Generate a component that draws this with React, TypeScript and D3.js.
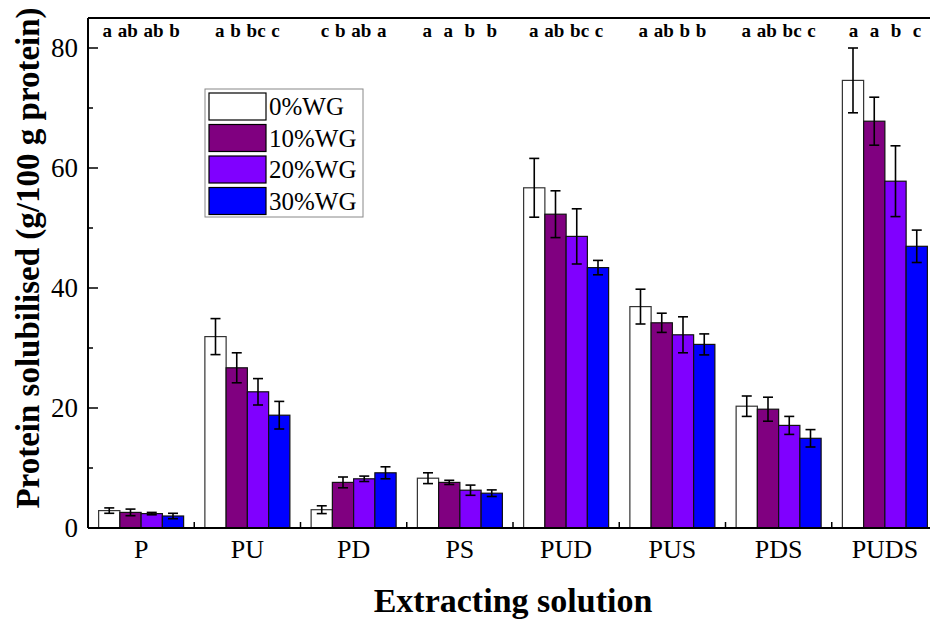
import React from "react";
import * as d3 from "d3";

const categories = ["P", "PU", "PD", "PS", "PUD", "PUS", "PDS", "PUDS"];
const seriesNames = ["0%WG", "10%WG", "20%WG", "30%WG"];
const seriesColors = ["#FFFFFF", "#800080", "#8000FF", "#0000FF"];
const values0 = [2.9, 31.9, 3.05, 8.3, 56.7, 36.9, 20.3, 74.6];
const values10 = [2.6, 26.7, 7.6, 7.6, 52.3, 34.2, 19.8, 67.8];
const values20 = [2.4, 22.7, 8.2, 6.3, 48.6, 32.2, 17.1, 57.8];
const values30 = [2.0, 18.8, 9.2, 5.8, 43.4, 30.6, 14.95, 46.95];
const errors0 = [0.45, 3.0, 0.65, 0.9, 4.9, 2.9, 1.7, 5.4];
const errors10 = [0.55, 2.5, 0.9, 0.35, 3.9, 1.6, 2.0, 4.0];
const errors20 = [0.2, 2.2, 0.45, 0.85, 4.6, 3.0, 1.5, 5.9];
const errors30 = [0.45, 2.3, 1.0, 0.55, 1.2, 1.75, 1.45, 2.7];
const letters = ["a ab ab b", "a b bc c", "c b ab a", "a  a  b  b", "a ab bc c", "a ab b b", "a ab bc c", "a  a  b  c"];
const yTicks = [0, 20, 40, 60, 80];
const yMinorTicks = [10, 30, 50, 70];

const allValues = [values0, values10, values20, values30];
const allErrors = [errors0, errors10, errors20, errors30];

const W = 930;
const H = 619;
const left = 88;
const right = 938;
const top = 18;
const bottom = 528;
const serif = "'Liberation Serif', 'Times New Roman', serif";

export default function App() {
  const x0 = d3.scaleBand<string>().domain(categories).range([left, right]).padding(0);
  const x1 = d3
    .scaleBand<string>()
    .domain(seriesNames)
    .range([0, x0.bandwidth()])
    .paddingInner(0)
    .paddingOuter(0.5);
  const y = d3.scaleLinear().domain([0, 85]).range([bottom, top]);
  const bw = x1.bandwidth();

  const legendX = 205;
  const legendY = 89;
  const rowH = 31.5;

  return (
    <svg
      width={W}
      height={H}
      style={{ position: "absolute", left: 0, top: 0, background: "#fff" }}
      fontFamily={serif}
    >
      {/* bars */}
      {categories.map((c, ci) => (
        <g key={c}>
          {seriesNames.map((s, si) => {
            const v = allValues[si][ci];
            const e = allErrors[si][ci];
            const bx = (x0(c) as number) + (x1(s) as number);
            const cx = bx + bw / 2;
            return (
              <g key={s}>
                <rect
                  x={bx}
                  y={y(v)}
                  width={bw}
                  height={y(0) - y(v)}
                  fill={seriesColors[si]}
                  stroke={si === 0 ? "#333" : "#111"}
                  strokeWidth={1.2}
                />
                <line x1={cx} x2={cx} y1={y(v + e)} y2={y(v - e)} stroke="#000" strokeWidth={1.6} />
                <line x1={cx - 5} x2={cx + 5} y1={y(v + e)} y2={y(v + e)} stroke="#000" strokeWidth={1.6} />
                <line x1={cx - 5} x2={cx + 5} y1={y(v - e)} y2={y(v - e)} stroke="#000" strokeWidth={1.6} />
              </g>
            );
          })}
        </g>
      ))}

      {/* frame */}
      <line x1={left} x2={right} y1={top} y2={top} stroke="#000" strokeWidth={2} />
      <line x1={left} x2={left} y1={top} y2={bottom} stroke="#000" strokeWidth={2} />
      <line x1={left} x2={right} y1={bottom} y2={bottom} stroke="#000" strokeWidth={2} />

      {/* y ticks */}
      {yTicks.map((t) => (
        <g key={t}>
          <line x1={left} x2={left + 10} y1={y(t)} y2={y(t)} stroke="#000" strokeWidth={1.5} />
          <text x={left - 10} y={y(t) + 9} textAnchor="end" fontSize={27}>
            {t}
          </text>
        </g>
      ))}
      {yMinorTicks.map((t) => (
        <line key={t} x1={left} x2={left + 5} y1={y(t)} y2={y(t)} stroke="#000" strokeWidth={1.5} />
      ))}

      {/* x ticks & labels */}
      {categories.map((c, i) => (
        <g key={c}>
          {i > 0 && (
            <line
              x1={x0(c) as number}
              x2={x0(c) as number}
              y1={bottom}
              y2={bottom - 6}
              stroke="#000"
              strokeWidth={1.5}
            />
          )}
          <text
            x={(x0(c) as number) + x0.bandwidth() / 2}
            y={558}
            textAnchor="middle"
            fontSize={26}
          >
            {c}
          </text>
          <text
            x={(x0(c) as number) + x0.bandwidth() / 2}
            y={37}
            textAnchor="middle"
            fontSize={19}
            fontWeight="bold"
            wordSpacing={1}
            style={{ whiteSpace: "pre" }}
          >
            {letters[i]}
          </text>
        </g>
      ))}

      {/* axis titles */}
      <text x={(left + right) / 2} y={612} textAnchor="middle" fontSize={34} fontWeight="bold">
        Extracting solution
      </text>
      <text
        transform={`translate(39, ${(top + bottom) / 2 - 15}) rotate(-90)`}
        textAnchor="middle"
        fontSize={33}
        fontWeight="bold"
      >
        Protein solubilised (g/100 g protein)
      </text>

      {/* legend */}
      <rect x={legendX} y={legendY} width={158} height={128} fill="#fff" stroke="#888" strokeWidth={1} />
      {seriesNames.map((s, i) => (
        <g key={s}>
          <rect
            x={legendX + 4}
            y={legendY + 4 + i * rowH}
            width={57}
            height={27}
            fill={seriesColors[i]}
            stroke="#000"
            strokeWidth={1.2}
          />
          <text x={legendX + 64} y={legendY + 4 + i * rowH + 22} fontSize={25}>
            {s}
          </text>
        </g>
      ))}
    </svg>
  );
}
